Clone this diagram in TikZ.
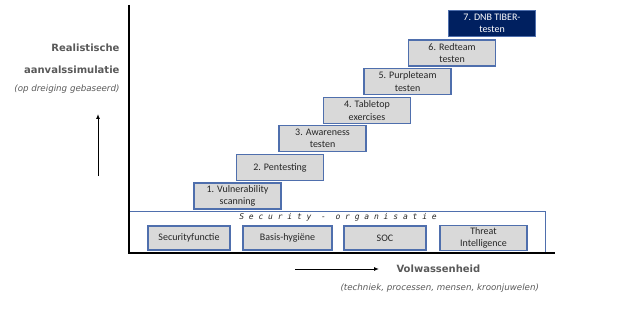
\documentclass[tikz,border=0pt]{standalone}
\usepackage{fontspec}
\setmainfont{Carlito}
\newfontfamily\labelfont{DejaVu Sans}
\newfontfamily\spacedfont{DejaVu Sans Mono}
\usetikzlibrary{arrows.meta,positioning}
\definecolor{navy}{HTML}{002060}
\definecolor{stepblue}{HTML}{4F6FAD}
\definecolor{stepgray}{HTML}{D9D9D9}
\definecolor{labelgray}{HTML}{595959}
\tikzset{
  stepbox/.style={draw=stepblue, line width=1.2pt, fill=stepgray, minimum width=87pt, minimum height=26pt, inner sep=1pt, align=center, text=black!85, font=\fontsize{10}{12.5}\selectfont},
  basebox/.style={stepbox, minimum width=82pt, minimum height=24pt},
  axislabel/.style={text=labelgray, font=\labelfont\bfseries\fontsize{10}{12}\selectfont},
  sublabel/.style={text=labelgray, font=\labelfont\itshape\fontsize{8.7}{10}\selectfont}
}

\begin{document}
\begin{tikzpicture}[x=1pt, y=-1pt]
\useasboundingbox (0,0) rectangle (628,315);
% security-organisatie
\node[draw=stepblue, line width=0.8pt, minimum width=416pt, minimum height=41pt, inner sep=0, anchor=south west] (org) at (129,253) {};
\node[anchor=north, inner sep=1pt, text=black!85, font=\spacedfont\itshape\fontsize{8}{9}\selectfont] (orgtitle) at (338,212) {S e c u r i t y ~- ~o r g a n i s a t i e};
\node[basebox] (secfunc) at (189,238) {Securityfunctie};
\node[basebox, minimum width=89pt] (hygiene) at (287.5,238) {Basis-hygiëne};
\node[basebox] (soc) at (385,238) {SOC};
\node[basebox, minimum width=87pt, minimum height=25pt] (threat) at (483.5,238) {Threat\\Intelligence};
% assen
\coordinate (top) at (129,5);
\coordinate (origin) at (129,253);
\coordinate (end) at (555,253);
\draw[line width=1.3pt] (top) -- (origin) -- (end);
% trappen
\node[stepbox] (step1) at (237.5,196) {1. Vulnerability\\scanning};
\node[stepbox] (step2) at (280,167.5) {2. Pentesting};
\node[stepbox] (step3) at (322.5,138.5) {3. Awareness\\testen};
\node[stepbox] (step4) at (367,110.5) {4. Tabletop\\exercises};
\node[stepbox] (step5) at (407.5,81.5) {5. Purpleteam\\testen};
\node[stepbox] (step6) at (452,53) {6. Redteam\\testen};
\node[stepbox, fill=navy, text=white] (step7) at (492,23.5) {7. DNB TIBER-\\testen};
% labels
\node[axislabel, anchor=east] (real) at (123,48) {Realistische};
\node[axislabel, anchor=east] (aanval) at (123,70) {aanvalssimulatie};
\node[sublabel, anchor=east] (dreiging) at (123,89) {(op dreiging gebaseerd)};
\coordinate (upstart) at (98,176);
\coordinate (upend) at (98,114);
\draw[-{Latex[length=5pt,width=4pt]}, line width=1pt] (upstart) -- (upend);
\coordinate (rightstart) at (295,269);
\coordinate (rightend) at (379,269);
\draw[-{Latex[length=5pt,width=4pt]}, line width=1pt] (rightstart) -- (rightend);
\node[axislabel, anchor=west] (volw) at (393,269) {Volwassenheid};
\node[sublabel, anchor=west] (techniek) at (337,288) {(techniek, processen, mensen, kroonjuwelen)};
\end{tikzpicture}
\end{document}
